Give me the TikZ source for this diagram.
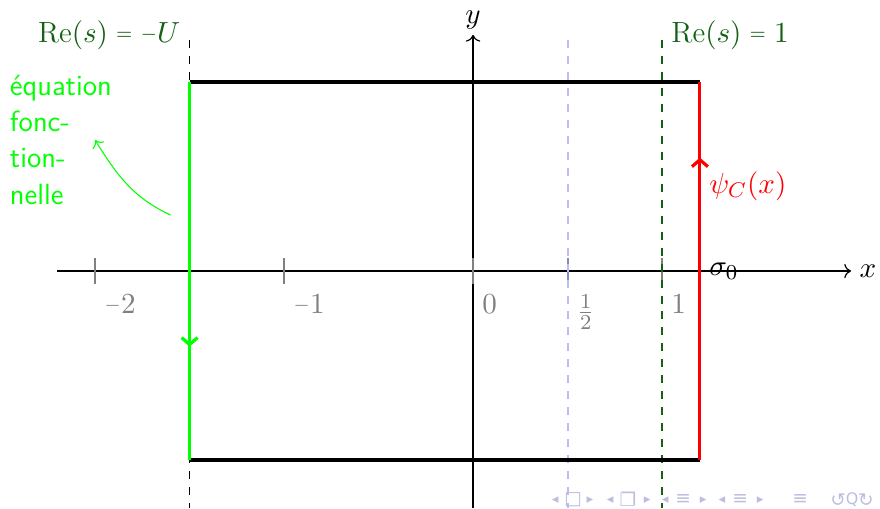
\documentclass[tikz,border=0pt]{standalone}
\usepackage{fontspec}
\newfontfamily\navfont{DejaVu Sans}
\usetikzlibrary{decorations.markings,arrows.meta}
\definecolor{dkgreen}{rgb}{0.08,0.38,0.08}
\definecolor{navcol}{rgb}{0.74,0.74,0.88}
\definecolor{halfblue}{rgb}{0.74,0.74,0.96}
\definecolor{halftick}{rgb}{0.55,0.55,0.72}
\newcommand{\smeq}{\mathrel{\raisebox{0.9pt}{\fontsize{7.5}{8}\selectfont$=$}}}
\newcommand{\smminus}{\mathord{\raisebox{0.9pt}{\fontsize{7.5}{8}\selectfont$-$}}}
\begin{document}
\begin{tikzpicture}[x=2.5cm,y=2.5cm,font=\fontsize{11}{13.6}\selectfont,
  axisline/.style={->,line width=0.45pt},
  tickmark/.style={gray,line width=0.8pt},
  ticklabel/.style={gray,anchor=north west},
  edge/.style={line width=1.2pt},
  midarrow/.style={decoration={markings,mark=at position #1 with {\arrow{Straight Barb[length=2.6pt,width=6pt]}}},postaction=decorate},
  vline/.style={dashed,line width=0.45pt},
  navsym/.style={navcol,inner sep=0pt}]
\useasboundingbox (-2.503,-1.254) rectangle (2.153,1.434);

% coordinates
\coordinate (xs) at (-2.2,0);
\coordinate (xe) at (2.0,0);
\coordinate (ys) at (0,-1.254);
\coordinate (ye) at (0,1.25);
\coordinate (TL) at (-1.5,1);
\coordinate (TR) at (1.2,1);
\coordinate (BL) at (-1.5,-1);
\coordinate (BR) at (1.2,-1);
\coordinate (dUt) at (-1.5,1.22);
\coordinate (dUb) at (-1.5,-1.254);
\coordinate (dHt) at (0.5,1.22);
\coordinate (dHb) at (0.5,-1.254);
\coordinate (dOt) at (1,1.22);
\coordinate (dOb) at (1,-1.254);

% axes
\draw[axisline] (xs) -- (xe) node[right,inner sep=3pt] (xl) {$x$};
\draw[axisline] (ys) -- (ye) node[above,inner sep=2pt] (yl) {$y$};

% ticks
\foreach \t/\lab/\tc [count=\i] in {-2/{$\smminus2$}/gray,-1/{$\smminus1$}/gray,0/{$0$}/gray,0.5/{$\frac{1}{2}$}/halftick,1/{$1$}/gray}{
  \coordinate (ta\i) at (\t,0.07);
  \coordinate (tb\i) at (\t,-0.07);
  \draw[tickmark,draw=\tc] (ta\i) -- (tb\i);
  \node[ticklabel] (tl\i) at (\t,-0.075) {\lab};
}

% dashed lines
\draw[vline,halfblue,line width=0.75pt] (dHt) -- (dHb);
\draw[vline,dkgreen] (dOt) -- (dOb);
\draw[vline,black] (dUt) -- (dUb);

% contour
\draw[edge,black] (TL) -- (TR);
\draw[edge,black] (BL) -- (BR);
\draw[edge,green,midarrow=0.7] (TL) -- (BL);
\draw[edge,red,midarrow=0.8] (BR) -- (TR);

% labels
\node[left,dkgreen] (reU) at (-1.5,1.25) {$\mathrm{Re}(s) \smeq \smminus U$};
\node[right,dkgreen] (re1) at (1,1.25) {$\mathrm{Re}(s) \smeq 1$};
\node[right] (sig) at (1.2,0) {$\sigma_0$};
\node[right,red] (psi) at (1.2,0.45) {$\psi_C(x)$};

\node[anchor=north west,align=left,green,font=\sffamily\fontsize{11}{13.6}\selectfont] (eq) at (-2.5,1.085) {équation\\fonc-\\tion-\\nelle};
\coordinate (cs) at (-1.6,0.296);
\coordinate (ce) at (-2.0,0.693);
\draw[green,line width=0.4pt,->] (cs) to[out=155,in=-58] (ce);

% navigation symbols
\foreach \x/\s/\fs [count=\i] in {0.434/◂/5,0.529/□/7,0.619/▸/5,0.725/◂/5,0.820/❐/7,0.921/▸/5,1.016/◂/5,1.111/≡/7,1.217/▸/5,1.317/◂/5,1.413/≡/7,1.519/▸/5,1.730/≡/7,1.931/↺/7,2.005/Q/6,2.079/↻/7}{
  \node[navsym,font=\navfont\fontsize{\fs}{\fs}\selectfont] (nav\i) at (\x,-1.21) {\s};
}
\end{tikzpicture}
\end{document}
